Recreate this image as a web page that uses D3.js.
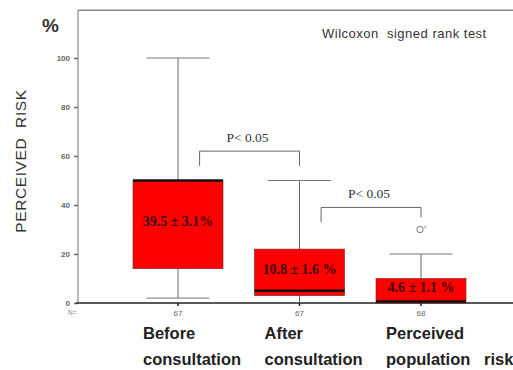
<!DOCTYPE html>
<html>
<head>
<meta charset="utf-8">
<script src="https://cdn.jsdelivr.net/npm/d3@7"></script>
<style>
  html, body { margin: 0; padding: 0; background: #fff; }
  svg { display: block; }
</style>
</head>
<body>
<script>
// ---- data ----
const categories = ["Before consultation", "After consultation", "Perceived population risk"];
const labelLines = [["Before", "consultation"], ["After", "consultation"], ["Perceived", "population   risk"]];
const nValues = [67, 67, 68];
const whiskerLow = [2, 0, 0];
const q1 = [14, 3, 0];
const median = [50, 5, 0.6];
const q3 = [50, 22, 10];
const whiskerHigh = [100, 50, 20];
const meanLabels = ["39.5 \u00B1 3.1%", "10.8 \u00B1 1.6 %", "4.6 \u00B1 1.1 %"];
const outliers = [{ cat: 2, value: 30, label: "4" }];
const yTicks = [0, 20, 40, 60, 80, 100];
const sigPairs = [{ a: 0, b: 1, level: 62, leftDrop: 56, rightDrop: 56, text: "P< 0.05" },
                  { a: 1, b: 2, level: 39, leftDrop: 33, rightDrop: 35, text: "P< 0.05" }];

// ---- layout ----
const W = 513, H = 370;
const svg = d3.select("body").append("svg").attr("width", W).attr("height", H);

const y = d3.scaleLinear().domain([0, 100]).range([303, 58]);
const x = d3.scalePoint().domain(categories).range([178, 421]);
const boxW = 90, capW = 63;
const axisX = 78, topVal = 119.5;

// frame lines
svg.append("line").attr("x1", axisX).attr("x2", W).attr("y1", y(topVal)).attr("y2", y(topVal))
  .attr("stroke", "#888").attr("stroke-width", 1.5);

// y axis
const yAxis = svg.append("g").attr("transform", `translate(${axisX},0)`)
  .call(d3.axisLeft(y).tickValues(yTicks).tickSize(4).tickPadding(4).tickSizeOuter(0));
yAxis.select(".domain").remove();
yAxis.selectAll(".tick line").attr("stroke", "#666").attr("stroke-width", 1.5);
yAxis.selectAll(".tick text").attr("font-family", "Liberation Sans, Arial, sans-serif")
  .attr("font-size", 8).attr("font-weight", "bold").attr("fill", "#666");
svg.append("line").attr("x1", axisX).attr("x2", axisX).attr("y1", y(topVal)).attr("y2", y(0))
  .attr("stroke", "#888").attr("stroke-width", 1.2);

// bottom axis
svg.append("line").attr("x1", axisX - 2).attr("x2", W).attr("y1", y(0)).attr("y2", y(0))
  .attr("stroke", "#222").attr("stroke-width", 1.6);

// boxes
categories.forEach((c, i) => {
  const cx = x(c);
  const g = svg.append("g");
  g.append("line").attr("x1", cx).attr("x2", cx).attr("y1", y(whiskerHigh[i])).attr("y2", y(q3[i]))
    .attr("stroke", "#666").attr("stroke-width", 1);
  g.append("line").attr("x1", cx).attr("x2", cx).attr("y1", y(q1[i])).attr("y2", y(whiskerLow[i]))
    .attr("stroke", "#666").attr("stroke-width", 1);
  g.append("line").attr("x1", cx - capW / 2).attr("x2", cx + capW / 2).attr("y1", y(whiskerHigh[i])).attr("y2", y(whiskerHigh[i]))
    .attr("stroke", "#777").attr("stroke-width", 1);
  if (whiskerLow[i] > 0) {
    g.append("line").attr("x1", cx - capW / 2).attr("x2", cx + capW / 2).attr("y1", y(whiskerLow[i])).attr("y2", y(whiskerLow[i]))
      .attr("stroke", "#777").attr("stroke-width", 1);
  }
  g.append("rect").attr("x", cx - boxW / 2).attr("y", y(q3[i])).attr("width", boxW)
    .attr("height", y(q1[i]) - y(q3[i])).attr("fill", "#ff0000").attr("stroke", "#7a2020").attr("stroke-width", 0.6);
  g.append("line").attr("x1", cx - boxW / 2).attr("x2", cx + boxW / 2).attr("y1", y(median[i])).attr("y2", y(median[i]))
    .attr("stroke", "#111").attr("stroke-width", 2.6);
  g.append("text").attr("x", cx).attr("y", (y(q1[i]) + y(q3[i])) / 2 - 2)
    .attr("text-anchor", "middle").attr("dominant-baseline", "middle")
    .attr("font-family", "Liberation Serif, 'Times New Roman', serif").attr("font-weight", "bold")
    .attr("font-size", 14).attr("fill", "#3a0505").text(meanLabels[i]);
  // x tick
  g.append("line").attr("x1", cx).attr("x2", cx).attr("y1", y(0)).attr("y2", y(0) + 3)
    .attr("stroke", "#222").attr("stroke-width", 1.5);
  // N
  g.append("text").attr("x", cx).attr("y", y(0) + 13).attr("text-anchor", "middle")
    .attr("font-family", "Liberation Sans, Arial, sans-serif").attr("font-size", 8).attr("fill", "#666").text(nValues[i]);
  // category label
  const t = g.append("text").attr("font-family", "Liberation Sans, Arial, sans-serif").attr("font-weight", "bold")
    .attr("font-size", 16.5).attr("fill", "#222").style("white-space", "pre");
  labelLines[i].forEach((ln, k) => {
    t.append("tspan").attr("x", cx - 35).attr("y", 339 + k * 26).text(ln);
  });
});

svg.append("text").attr("x", 68).attr("y", y(0) + 12).attr("font-family", "Liberation Sans, Arial, sans-serif")
  .attr("font-size", 6.5).attr("fill", "#888").text("N=");

// outliers
outliers.forEach(o => {
  const cx = x(categories[o.cat]);
  svg.append("circle").attr("cx", cx - 1).attr("cy", y(o.value)).attr("r", 3.2)
    .attr("fill", "none").attr("stroke", "#777").attr("stroke-width", 1);
  svg.append("text").attr("x", cx + 2.5).attr("y", y(o.value) - 1).attr("font-size", 5)
    .attr("font-family", "Liberation Sans, Arial, sans-serif").attr("fill", "#999").text(o.label);
});

// significance brackets
sigPairs.forEach(s => {
  const xa = x(categories[s.a]) + boxW * 0.24, xb = x(categories[s.b]);
  svg.append("path").attr("d", `M${xa},${y(s.leftDrop)}V${y(s.level)}H${xb}V${y(s.rightDrop)}`)
    .attr("fill", "none").attr("stroke", "#666").attr("stroke-width", 1);
  svg.append("text").attr("x", (xa + xb) / 2 - 2).attr("y", y(s.level) - 9).attr("text-anchor", "middle")
    .attr("font-family", "Liberation Serif, 'Times New Roman', serif").attr("font-size", 13.5)
    .attr("fill", "#333").text(s.text);
});

// titles
svg.append("text").attr("x", 42).attr("y", 32).attr("font-family", "Liberation Sans, Arial, sans-serif")
  .attr("font-weight", "bold").attr("font-size", 19).attr("fill", "#333").text("%");
svg.append("text").attr("transform", "translate(26,161) rotate(-90)").attr("text-anchor", "middle")
  .attr("font-family", "Liberation Sans, Arial, sans-serif").attr("font-size", 15.5).attr("fill", "#333")
  .style("white-space", "pre").style("letter-spacing", "0.6px").text("PERCEIVED  RISK");
svg.append("text").attr("x", 322).attr("y", 38).attr("font-family", "Liberation Sans, Arial, sans-serif")
  .attr("font-size", 13).attr("fill", "#333").style("white-space", "pre").style("letter-spacing", "0.5px")
  .text("Wilcoxon  signed rank test");
</script>
</body>
</html>
